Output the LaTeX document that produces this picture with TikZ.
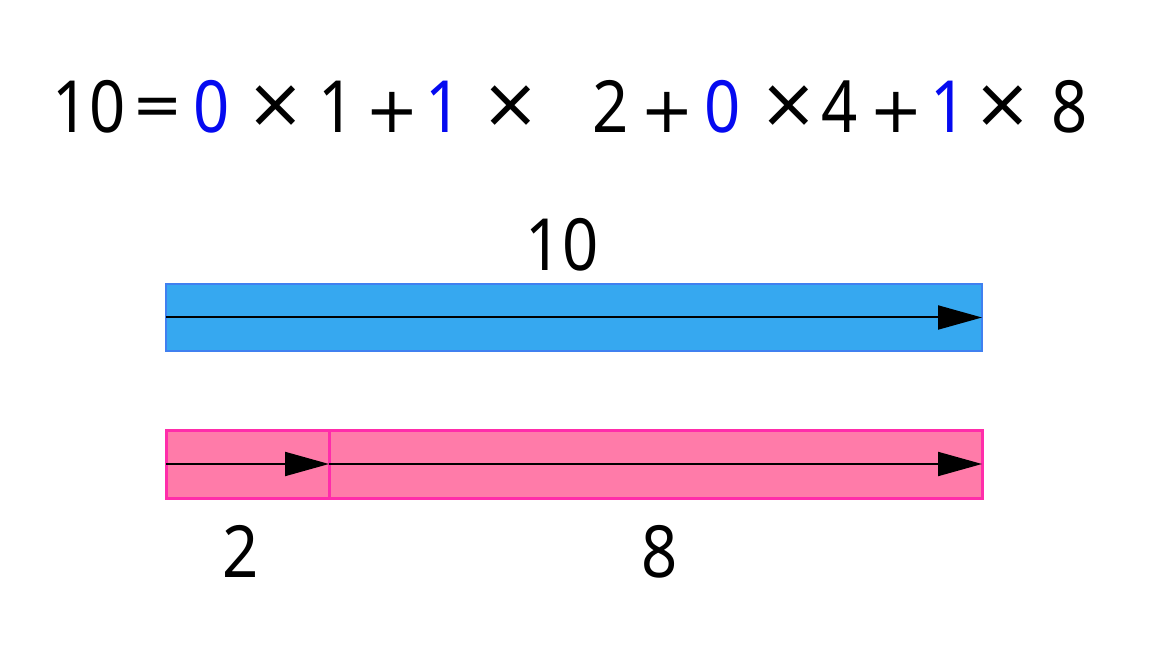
\documentclass[tikz,border=0pt]{standalone}
\usepackage{fontspec}
\setmainfont{Noto Sans}[FakeStretch=0.88]
\newfontfamily\opfont{DejaVu Sans}
\usepackage{xcolor}
\usetikzlibrary{arrows.meta, positioning}

\definecolor{barblue}{RGB}{54,168,240}
\definecolor{barblueline}{RGB}{64,128,240}
\definecolor{barpink}{RGB}{255,123,169}
\definecolor{barpinkline}{RGB}{255,45,170}
\definecolor{digitblue}{RGB}{5,10,240}

\begin{document}
\begin{tikzpicture}[
  x=0.5pt, y=-0.5pt,
  every node/.style={font=\fontsize{36pt}{40pt}\selectfont, inner sep=0pt, outer sep=0pt},
  op/.style={font=\opfont\fontsize{#1}{#1}\selectfont},
  bluebar/.style={draw=barblueline, fill=barblue, line width=0.8pt,
    minimum height=33.5pt},
  pinkbar/.style={draw=barpinkline, fill=barpink, line width=1.5pt,
    minimum height=34pt},
  vec/.style={line width=1pt, -{Triangle[length=22pt, width=12pt]}}
]
\useasboundingbox (0,0) rectangle (1168,652);

% equation: digits on the baseline, operators centred on their own heights
\foreach \g/\x/\c in {10/89/black, 0/211.5/digitblue, 1/336.5/black,
    1/444/digitblue, 2/610.5/black, 0/722.5/digitblue, 4/840/black,
    1/949/digitblue, 8/1070/black}
  \node[anchor=base, text=\c] at (\x,133) {\g};
\foreach \g/\x/\y/\s in {=/158/112/30pt, ×/275.5/107/35pt, +/392/112.5/32pt,
    ×/510.5/107/35pt, +/667/112.5/32pt, ×/789/107/35pt, +/896/112.5/32pt,
    ×/1003/107/35pt}
  \node[op=\s] at (\x,\y) {\g};

% bars
\node[bluebar, minimum width=408pt] (bar10) at (574,317.5) {};
\node[pinkbar, minimum width=81.5pt] (seg2) at (247.5,464) {};
\node[pinkbar, minimum width=326.5pt, anchor=west] (seg8) at (seg2.east) {};

\draw[vec] (bar10.west) -- (bar10.east);
\draw[vec] (seg2.west) -- (seg2.east);
\draw[vec] (seg8.west) -- (seg8.east);

% labels
\node[anchor=base] (lab10) at (562,271) {10};
\node[anchor=base] (lab2) at (241,577) {2};
\node[anchor=base] (lab8) at (660,577) {8};
\end{tikzpicture}
\end{document}
